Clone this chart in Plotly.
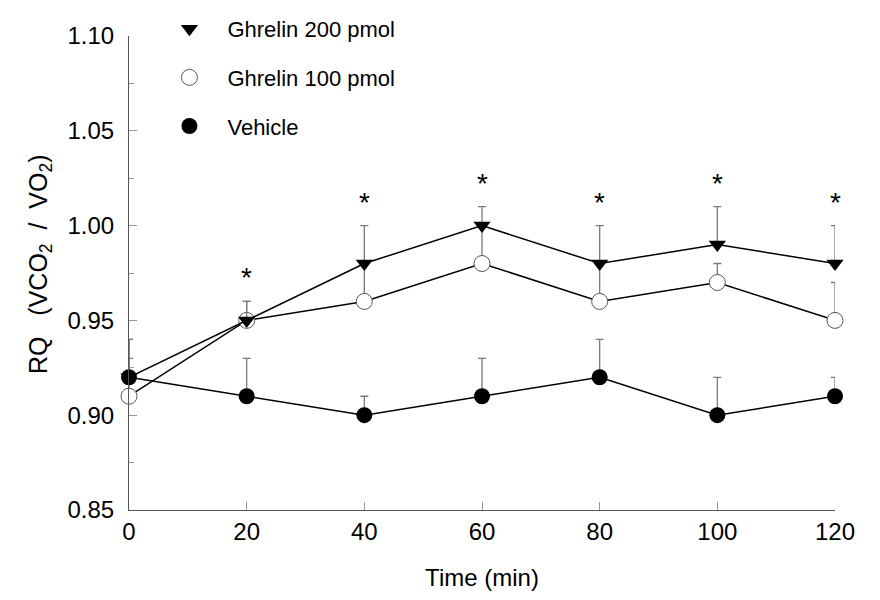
import plotly.graph_objects as go

time_min = [0, 20, 40, 60, 80, 100, 120]
ghrelin200 = [0.92, 0.95, 0.98, 1.00, 0.98, 0.99, 0.98]
ghrelin200_err = [0.02, 0.01, 0.02, 0.01, 0.02, 0.02, 0.02]
ghrelin100 = [0.91, 0.95, 0.96, 0.98, 0.96, 0.97, 0.95]
ghrelin100_err = [0.02, 0.01, 0.02, 0.02, 0.02, 0.01, 0.02]
vehicle = [0.92, 0.91, 0.90, 0.91, 0.92, 0.90, 0.91]
vehicle_err = [0.02, 0.02, 0.01, 0.02, 0.02, 0.02, 0.01]
sig_times = [20, 40, 60, 80, 100, 120]

FONT = "Liberation Sans, Arial, sans-serif"
ERR_COLOR = "#7a7a7a"

m200 = dict(symbol="triangle-down", size=15, color="black", line=dict(width=0))
m100 = dict(symbol="circle", size=16, color="white", line=dict(color="#555555", width=1))
mveh = dict(symbol="circle", size=16, color="black", line=dict(width=0))


def err(arr):
    return dict(type="data", array=arr, arrayminus=[0] * len(arr), symmetric=False,
                color=ERR_COLOR, thickness=1.3, width=4)


fig = go.Figure()

fig.add_trace(go.Scatter(
    x=time_min, y=ghrelin100, name="Ghrelin 100 pmol", mode="lines+markers",
    line=dict(color="black", width=1.5), marker=m100, error_y=err(ghrelin100_err),
    showlegend=False, cliponaxis=False,
))
fig.add_trace(go.Scatter(
    x=time_min, y=ghrelin200, name="Ghrelin 200 pmol", mode="lines+markers",
    line=dict(color="black", width=1.5), marker=m200, error_y=err(ghrelin200_err),
    showlegend=False, cliponaxis=False,
))
fig.add_trace(go.Scatter(
    x=time_min, y=vehicle, name="Vehicle", mode="lines+markers",
    line=dict(color="black", width=1.5), marker=mveh, error_y=err(vehicle_err),
    showlegend=False, cliponaxis=False,
))

# legend entries (markers only, as in the reference)
for nm, mk, grp in [("Ghrelin 200 pmol", m200, "a"), ("Ghrelin 100 pmol", m100, "b"),
                    ("Vehicle", mveh, "c")]:
    fig.add_trace(go.Scatter(x=[None], y=[None], name=nm, mode="markers", marker=mk,
                             legendgroup=grp, showlegend=True))

# significance stars above Ghrelin 200 error bars
for t in sig_times:
    i = time_min.index(t)
    fig.add_annotation(x=t, y=ghrelin200[i] + ghrelin200_err[i], text="*",
                       showarrow=False, yanchor="bottom", yshift=6,
                       font=dict(family=FONT, size=28, color="black"))

# y-axis title (bottom end aligned like the reference)
fig.add_annotation(xref="paper", yref="paper", x=0, y=0, xshift=-89, yshift=134,
                   text="RQ&nbsp;&nbsp;&nbsp;(VCO<sub>2</sub>&nbsp;&nbsp;/&nbsp;&nbsp;VO<sub>2</sub>)",
                   textangle=-90, showarrow=False, xanchor="center", yanchor="bottom",
                   font=dict(family=FONT, size=25, color="black"))

fig.update_layout(
    width=880, height=600,
    margin=dict(l=121, r=53, t=28, b=98, autoexpand=False),
    paper_bgcolor="white", plot_bgcolor="white",
    font=dict(family=FONT, color="black"),
    showlegend=True,
    legend=dict(xref="container", yref="container", x=0.163, y=1.0,
                xanchor="left", yanchor="top",
                font=dict(family=FONT, size=22), bgcolor="rgba(0,0,0,0)",
                tracegroupgap=17, itemwidth=66, traceorder="grouped"),
)
fig.update_xaxes(
    range=[0, 120], tickvals=time_min, ticks="inside", ticklen=8, tickcolor="#999999",
    showline=True, linecolor="#555555", linewidth=1, showgrid=False, zeroline=False,
    tickfont=dict(size=24), ticklabelstandoff=0,
    title=dict(text="Time (min)", font=dict(size=24), standoff=25),
)
fig.update_yaxes(
    range=[0.85, 1.10], tickvals=[0.85, 0.90, 0.95, 1.00, 1.05, 1.10],
    ticktext=["0.85", "0.90", "0.95", "1.00", "1.05", "1.10"],
    ticks="inside", ticklen=8, tickcolor="#999999",
    minor=dict(dtick=0.025, tick0=0.85, ticks="inside", ticklen=5, tickcolor="#999999"),
    showline=True, linecolor="#555555", linewidth=1, showgrid=False, zeroline=False,
    tickfont=dict(size=24), ticklabelstandoff=9,
)

fig.write_html("out.html")
